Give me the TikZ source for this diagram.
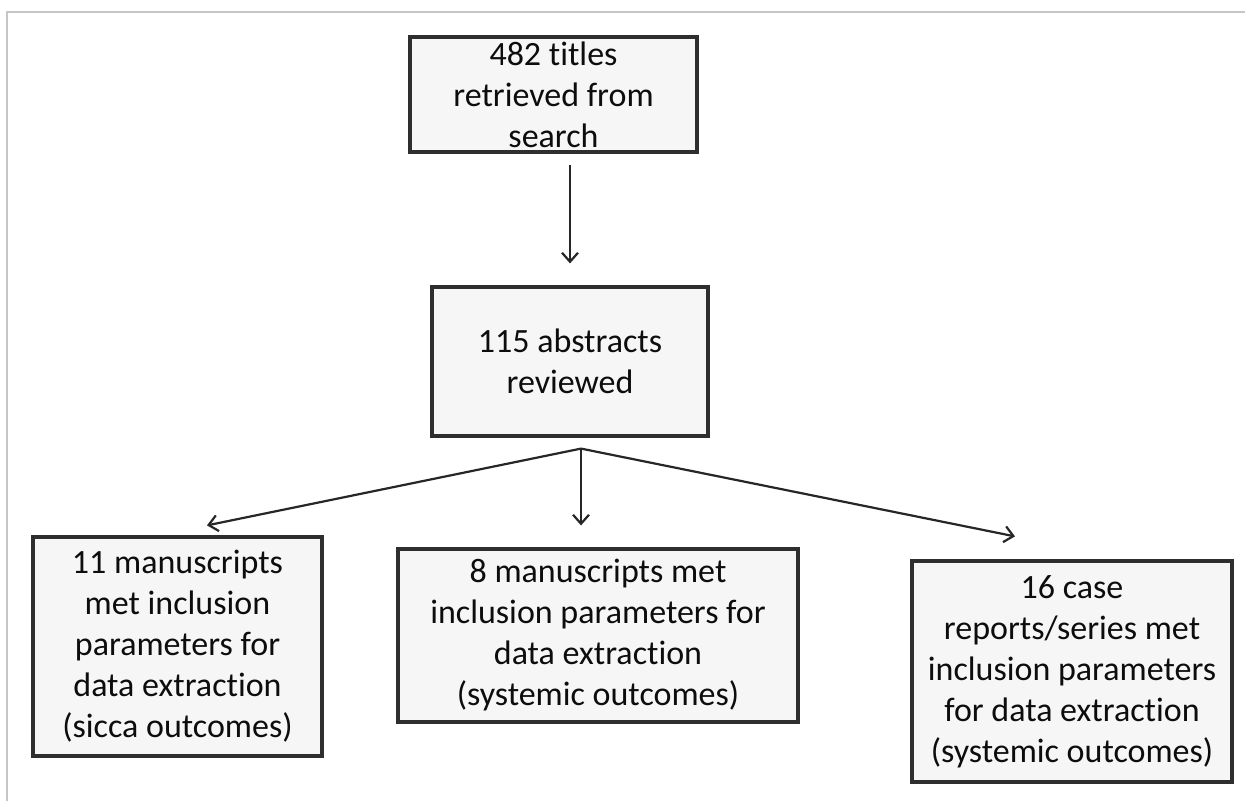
\documentclass[tikz,border=0pt]{standalone}
\usepackage{fontspec}
\setmainfont{Carlito}[Ligatures=NoCommon]
\usepackage{xcolor}
\usepackage{tikz}
\usetikzlibrary{arrows.meta, positioning}

\begin{document}
\begin{tikzpicture}[x=1pt, y=1pt]
\tikzstyle{countbox} = [rectangle, draw=black!82, line width=1.6pt, fill=gray!7, inner sep=0pt, align=center, font=\fontsize{17}{20.5}\selectfont, text=black!95]
\tikzstyle{flow} = [draw=black!85, line width=1.1pt, -{Straight Barb[length=4.5pt, width=8pt]}]

\useasboundingbox (0,0) rectangle (622.5,-400.5);
\draw[gray!45, line width=1pt] (3.5,-400.5) -- (3.5,-6) -- (622.5,-6);

\node (titles) [countbox, minimum width=143.5pt, minimum height=57.5pt] at (276.75,-47.25) {482 titles\\retrieved from\\search};
\node (abstracts) [countbox, minimum width=138pt, minimum height=74.5pt] at (285,-180.75) {115 abstracts\\reviewed};

\node (sicca) [countbox, minimum width=144.5pt, minimum height=109.5pt] at (88.75,-323.25) {11 manuscripts\\met inclusion\\parameters for\\data extraction\\(sicca outcomes)};
\node (systemic) [countbox, minimum width=200pt, minimum height=86.5pt] at (299,-317.75) {8 manuscripts met\\inclusion parameters for\\data extraction\\(systemic outcomes)};
\node (cases) [countbox, minimum width=160pt, minimum height=110.5pt] at (536,-335.75) {16 case\\reports/series met\\inclusion parameters\\for data extraction\\(systemic outcomes)};

\coordinate (split) at ([xshift=5.5pt, yshift=-5.5pt]abstracts.south);

\draw[flow] ([yshift=-5.5pt]titles.south -| abstracts.north) -- ([yshift=11pt]abstracts.north);
\draw[flow] (split) -- ([xshift=14.75pt, yshift=5pt]sicca.north);
\draw[flow] (split) -- ([yshift=11pt]systemic.north -| split);
\draw[flow] (split) -- ([xshift=-28.5pt, yshift=11.5pt]cases.north);

\end{tikzpicture}
\end{document}
